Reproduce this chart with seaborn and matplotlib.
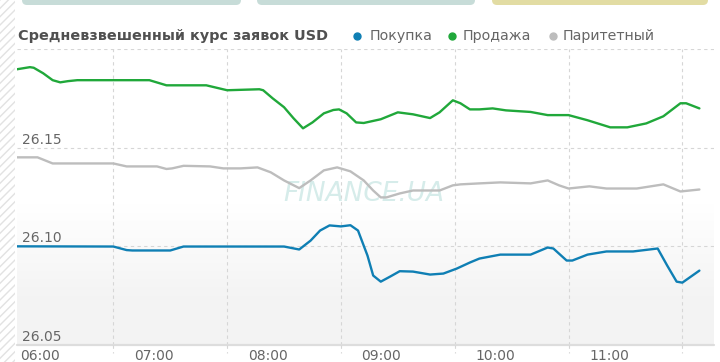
import numpy as np
import pandas as pd
import matplotlib
matplotlib.use("Agg")
import matplotlib.pyplot as plt
import matplotlib.transforms as mtransforms
from matplotlib.patches import Rectangle, FancyBboxPatch
from matplotlib.lines import Line2D
import seaborn as sns

sns.set_theme(style="white")
plt.rcParams["font.family"] = ["DejaVu Sans"]

# Покупка
buy_time = ["06:09", "07:00", "07:07", "07:10", "07:30", "07:37", "08:30", "08:38", "08:44",
            "08:49", "08:54", "09:00", "09:05", "09:09", "09:14", "09:17", "09:21", "09:26",
            "09:31", "09:38", "09:47", "09:54", "10:01", "10:08", "10:13", "10:24", "10:40",
            "10:49", "10:52", "10:59", "11:02", "11:10", "11:20", "11:34", "11:47", "11:52",
            "11:57", "12:00", "12:09"]
buy_rate = [26.1000, 26.0999, 26.0981, 26.0979, 26.0979, 26.0999, 26.0999, 26.0984, 26.1029,
            26.1080, 26.1106, 26.1101, 26.1107, 26.1080, 26.0953, 26.0852, 26.0821, 26.0847,
            26.0874, 26.0872, 26.0857, 26.0862, 26.0887, 26.0918, 26.0938, 26.0958, 26.0958,
            26.0994, 26.0989, 26.0928, 26.0928, 26.0958, 26.0974, 26.0974, 26.0989, 26.0903,
            26.0821, 26.0816, 26.0877]

# Продажа
sell_time = ["06:09", "06:16", "06:18", "06:23", "06:28", "06:32", "06:36", "06:41", "07:19",
             "07:28", "07:49", "08:00", "08:17", "08:19", "08:24", "08:30", "08:35", "08:40",
             "08:45", "08:51", "08:56", "08:59", "09:03", "09:08", "09:12", "09:21", "09:30",
             "09:38", "09:47", "09:52", "09:59", "10:03", "10:08", "10:13", "10:20", "10:27",
             "10:40", "10:49", "11:00", "11:10", "11:22", "11:31", "11:41", "11:50", "11:59",
             "12:02", "12:09"]
sell_rate = [26.1897, 26.1908, 26.1905, 26.1877, 26.1842, 26.1831, 26.1837, 26.1842, 26.1842,
             26.1816, 26.1816, 26.1791, 26.1796, 26.1791, 26.1750, 26.1705, 26.1649, 26.1598,
             26.1628, 26.1674, 26.1691, 26.1694, 26.1674, 26.1628, 26.1625, 26.1644, 26.1679,
             26.1669, 26.1650, 26.1679, 26.1740, 26.1725, 26.1694, 26.1694, 26.1699, 26.1689,
             26.1681, 26.1665, 26.1665, 26.1639, 26.1603, 26.1603, 26.1623, 26.1659, 26.1725,
             26.1725, 26.1699]

# Паритетный
par_time = ["06:09", "06:20", "06:28", "07:00", "07:07", "07:23", "07:28", "07:31", "07:37",
            "07:51", "07:58", "08:07", "08:16", "08:23", "08:30", "08:38", "08:44", "08:51",
            "08:58", "09:05", "09:12", "09:17", "09:21", "09:24", "09:31", "09:38", "09:52",
            "09:59", "10:03", "10:13", "10:24", "10:40", "10:49", "10:55", "11:00", "11:11",
            "11:20", "11:36", "11:50", "11:59", "12:09"]
par_rate = [26.1451, 26.1451, 26.1420, 26.1420, 26.1405, 26.1405, 26.1392, 26.1395, 26.1408,
            26.1405, 26.1395, 26.1395, 26.1400, 26.1375, 26.1334, 26.1295, 26.1334, 26.1385,
            26.1400, 26.1380, 26.1334, 26.1283, 26.1248, 26.1248, 26.1268, 26.1283, 26.1283,
            26.1309, 26.1314, 26.1319, 26.1324, 26.1319, 26.1334, 26.1309, 26.1293, 26.1304,
            26.1293, 26.1293, 26.1314, 26.1278, 26.1288]

series_names = ["Покупка", "Продажа", "Паритетный"]
colors = {"Покупка": "#0f7fb4", "Продажа": "#20a83a", "Паритетный": "#bdbdbd"}
hour_labels = ["06:00", "07:00", "08:00", "09:00", "10:00", "11:00"]
y_labels = ["26.05", "26.10", "26.15"]
title = "Средневзвешенный курс заявок USD"


def to_minutes(times):
    t = pd.to_datetime(pd.Series(times), format="%H:%M")
    return ((t.dt.hour - 6) * 60 + t.dt.minute).astype(float)


frames = []
for name, times, rates in [("Покупка", buy_time, buy_rate),
                           ("Продажа", sell_time, sell_rate),
                           ("Паритетный", par_time, par_rate)]:
    frames.append(pd.DataFrame({"minutes": to_minutes(times), "rate": rates, "series": name}))
df = pd.concat(frames, ignore_index=True)

W, H = 720, 362
fig = plt.figure(figsize=(W / 100, H / 100), dpi=100)
fig.patch.set_facecolor("white")

ax_left, ax_right, ax_top, ax_bottom = 17, 714, 49, 345
ax = fig.add_axes([ax_left / W, 1 - ax_bottom / H, (ax_right - ax_left) / W, (ax_bottom - ax_top) / H])
xmin, xmax = 9.2, 376.7
ymin, ymax = 26.05, 26.20

# background gradient
rows = np.linspace(ax_top, ax_bottom, 300)
shade = np.clip((rows - 205) / 95, 0, 1)
level = 1 - shade * (1 - 0.955)
grad = np.repeat(level[:, None], 3, axis=1)[:, None, :]
ax.imshow(grad, extent=[xmin, xmax, ymin, ymax], aspect="auto", zorder=0, interpolation="bilinear")

# grid
for v in [26.10, 26.15, 26.20]:
    ax.axhline(v, color="#d6d6d6", lw=0.8, ls=(0, (3, 3)), zorder=1)
for h in range(1, 7):
    ax.axvline(h * 60, color="#d6d6d6", lw=0.8, ls=(0, (3, 3)), zorder=1)
ax.axhline(26.05, color="#dddddd", lw=1.6, zorder=1, clip_on=False)

ax.text(192.0, 26.1265, "FINANCE.UA", fontsize=19, fontstyle="italic", color="#d6ecea",
        ha="center", va="center", zorder=1)

sns.lineplot(data=df, x="minutes", y="rate", hue="series", hue_order=series_names,
             palette=colors, estimator=None, sort=True, linewidth=1.7, legend=False,
             ax=ax, zorder=3)

ax.set_xlim(xmin, xmax)
ax.set_ylim(ymin, ymax)
ax.set_xticks([])
ax.set_yticks([])
ax.set_xlabel("")
ax.set_ylabel("")
for s in ax.spines.values():
    s.set_visible(False)

# small tick marks below the axis line
tick_tr = mtransforms.blended_transform_factory(ax.transData, ax.transAxes)
for h in range(1, 7):
    ax.add_line(Line2D([h * 60, h * 60], [0, -8 / (ax_bottom - ax_top)], transform=tick_tr,
                       color="#d6d6d6", lw=0.8, ls=(0, (3, 3)), clip_on=False))

# x labels (placed right of the hour lines)
lbl_tr = tick_tr + mtransforms.ScaledTranslation(0, -15 / 100, fig.dpi_scale_trans)
for i, lab in enumerate(hour_labels):
    ax.text(i * 60 + 21.3, 0, lab, transform=lbl_tr, ha="center", va="baseline",
            fontsize=10, color="#666666", clip_on=False)

# y labels inside the plot
ylab_tr = mtransforms.blended_transform_factory(fig.transFigure, ax.transData) + \
    mtransforms.ScaledTranslation(0, 4 / 100, fig.dpi_scale_trans)
for lab in y_labels:
    ax.text(22 / W, float(lab), lab, transform=ylab_tr, ha="left", va="baseline",
            fontsize=10, color="#666666", zorder=4)

# title and legend
fig.text(18 / W, 1 - 40 / H, title, fontsize=10.4, fontweight="bold", color="#505050",
         ha="left", va="baseline")
legend_pos = [(357, 370), (452, 463), (553, 563)]
for name, (dx, tx) in zip(series_names, legend_pos):
    fig.add_artist(Line2D([dx / W], [1 - 35.5 / H], marker="o", ms=5, color=colors[name],
                          lw=0, transform=fig.transFigure))
    fig.text(tx / W, 1 - 40 / H, name, fontsize=10.2, color="#666666", ha="left", va="baseline")

# page decorations: hatched strip on the left and tabs at the top
px = mtransforms.IdentityTransform()
fig.add_artist(Rectangle((0, 0), 15, H, transform=px, facecolor="white",
                         edgecolor="#e2e2e2", hatch="////", lw=0))
for (x0, x1), col in zip([(22, 241), (257, 475), (492, 708)], ["#c7dcd8", "#c7dcd8", "#e2dca3"]):
    fig.add_artist(FancyBboxPatch((x0, H - 5), x1 - x0, 12, transform=px,
                                  boxstyle="round,pad=0,rounding_size=5",
                                  facecolor=col, edgecolor="none"))

fig.savefig("out.png", dpi=100)
